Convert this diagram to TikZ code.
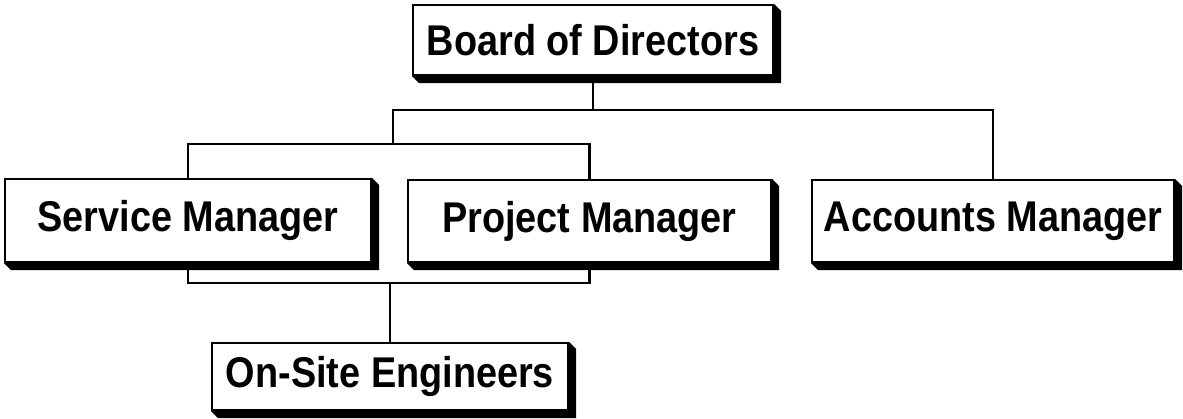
\documentclass[tikz,border=0pt]{standalone}
\usepackage{fontspec}
\usetikzlibrary{backgrounds}
\newfontfamily\boxfont[FakeStretch=0.88]{Liberation Sans Bold}
\begin{document}
\begin{tikzpicture}[x=1pt,y=-1pt,
  orgbox/.style={draw=black,line width=2.2pt,fill=white,rectangle,inner sep=0pt,
    font=\boxfont\fontsize{43}{50}\selectfont},
  conn/.style={draw=black,line width=2.2pt},
  shadowfill/.style={fill=black}]
\useasboundingbox (0,0) rectangle (1183,418);
\newcommand\boxshadow[1]{%
  \fill[shadowfill] (#1.south west) -- ++(7,7) -- ([shift={(7,7)}]#1.south east)
    -- ([shift={(7,7)}]#1.north east) -- (#1.north east) -- cycle;}
\coordinate (bus1) at (593,110);
\coordinate (top2) at (393,144);
\coordinate (low) at (390,283);
\node[orgbox,minimum width=360pt,minimum height=70pt] (bod) at (593,40) {Board of Directors};
\node[orgbox,minimum width=366pt,minimum height=83pt] (sm) at (188,220.5) {Service Manager};
\node[orgbox,minimum width=363pt,minimum height=82pt] (pm) at (589.5,221) {Project Manager};
\node[orgbox,minimum width=362pt,minimum height=82pt] (am) at (993,221) {Accounts Manager};
\node[orgbox,minimum width=356pt,minimum height=67pt] (ose) at (390,376.5) {On-Site Engineers};
\begin{scope}[on background layer]
\draw[conn] (bod.south) -- (bus1);
\draw[conn] (top2) |- (bus1) -| (am.north);
\draw[conn] (sm.north) |- (top2) -| (pm.north);
\draw[conn] (sm.south) |- (low) -| (pm.south);
\draw[conn] (low) -- (ose.north);
\boxshadow{bod}
\boxshadow{sm}
\boxshadow{pm}
\boxshadow{am}
\boxshadow{ose}
\end{scope}
\end{tikzpicture}
\end{document}
